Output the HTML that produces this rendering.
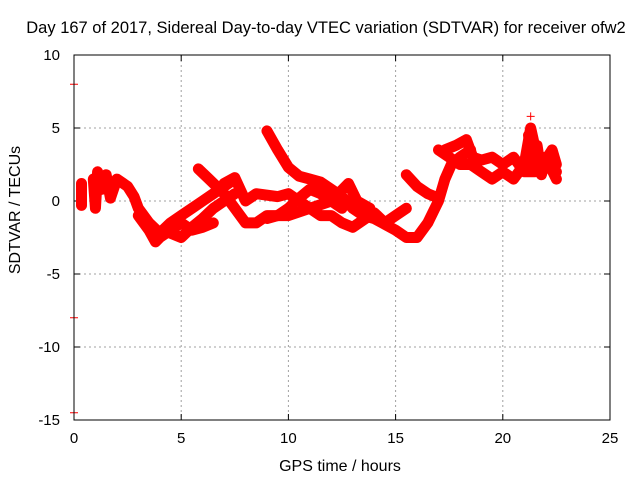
<!DOCTYPE html>
<html><head><meta charset="utf-8"><style>
body{margin:0;background:#fff}
svg{display:block;font-family:"Liberation Sans",sans-serif}
</style></head><body>
<svg id="chart" width="640" height="480" viewBox="0 0 640 480">
<text x="326" y="33" font-size="16.5" text-anchor="middle">Day 167 of 2017, Sidereal Day-to-day VTEC variation (SDTVAR) for receiver ofw2</text>
<text transform="translate(20,210) rotate(-90)" font-size="16" text-anchor="middle">SDTVAR / TECUs</text>
<text x="340" y="471" font-size="16" text-anchor="middle">GPS time / hours</text>
<g id="grid"></g><g id="ticks"></g><g id="marks"></g>
<rect x="74" y="55" width="536" height="365" fill="none" stroke="#000" stroke-width="1"/>
</svg>
<script>
const xTicks=[0,5,10,15,20,25];
const yTicks=[10,5,0,-5,-10,-15];
const track1=[[0.9,1.5],[1.0,-0.5],[1.1,2.0],[1.3,0.8],[1.5,1.8],[1.7,0.2],[2,1.5],[2.3,1.2],[2.5,1.0],[2.8,0.3],[3,-0.5],[3.5,-1.5],[4,-2.2],[4.5,-1.5],[5,-1.0],[5.5,-0.5],[6,0],[6.5,0.5],[7,1.0],[7.5,1.5]];
const track2=[[3,-1],[3.5,-2],[3.8,-2.8],[4,-2.5],[4.5,-2],[5,-1.5],[5.5,-2],[6,-1.8],[6.5,-1.5]];
const track3=[[5.8,2.2],[6.3,1.5],[7,0.5],[7.5,-0.5],[8,-1.5],[8.5,-1.5],[9,-1],[10,-1],[11,-0.5],[12,0],[12.5,-0.5]];
const track4=[[9,4.8],[9.5,3.5],[10,2.3],[10.5,1.7],[11,1.5],[11.5,1.3],[12,0.8],[12.5,0.3],[13,-0.5],[13.5,-1],[14,-1.2],[15,-2],[15.5,-2.5],[16,-2.5],[16.5,-1.5],[17,0],[17.3,1.5],[17.6,2.5],[18,3],[18.5,3.5]];
const track5=[[7,1.2],[7.5,1.6],[8,0],[8.5,0.5],[9.5,0.3],[10,0.5],[10.5,0],[11,-0.5],[11.5,-1],[12,-1],[12.5,-1.5],[13,-1.8],[13.5,-1.3],[14,-0.8],[14.5,-1.5],[15,-1],[15.5,-0.5]];
const track6=[[9,-1.2],[9.5,-1],[10,-0.5],[10.5,0.2],[11,0.8],[11.5,0.5],[12,0],[12.8,1.2],[13.2,0],[13.8,-0.5]];
const track7=[[15.5,1.8],[16,1],[16.5,0.5],[17,0.2]];
const track8=[[17,3.5],[17.5,3],[18,2.5],[18.5,2.5],[19,2],[19.5,1.5],[20,2],[20.5,1.5],[21,2.5],[21.3,5],[21.6,3],[22,2.5],[22.5,2]];
const track9=[[17.3,3.5],[17.8,3.8],[18.3,4.2],[18.6,3],[19,2.8],[19.5,3],[20,2.5],[20.5,3],[21,2],[21.5,2],[22,3],[22.5,1.5]];
const track10=[[0.35,1.2],[0.35,0.4],[0.35,-0.3]];
const track11=[[4.5,-2.2],[5,-2.5],[5.5,-1.8],[6,-1.2],[6.5,-0.5],[7,0],[7.5,0.5]];
const track12=[[21.2,4.5],[21.4,2.5],[21.6,3.8],[21.8,1.8],[22,2.8],[22.3,3.5],[22.5,2.5]];
const strays=[[0,8],[0,-8],[0,-14.5],[21.3,5.8]];
const tracks=[track1,track2,track3,track4,track5,track6,track7,track8,track9,track10,track11,track12];
const X=t=>74+t*536/25, Y=v=>201-v*14.6;
const NS="http://www.w3.org/2000/svg";
const grid=document.getElementById('grid'),ticks=document.getElementById('ticks'),marks=document.getElementById('marks');
function mk(tag,attrs,parent){const e=document.createElementNS(NS,tag);for(const k in attrs)e.setAttribute(k,attrs[k]);parent.appendChild(e);return e;}
xTicks.forEach(t=>{
 if(t>0&&t<25){const g=mk('line',{x1:X(t),x2:X(t),y1:55,y2:420,stroke:'#a0a0a0','stroke-dasharray':'2,3'},grid);
 
 }
 mk('line',{x1:X(t),x2:X(t),y1:420,y2:414,stroke:'#000'},ticks);
 mk('line',{x1:X(t),x2:X(t),y1:55,y2:61,stroke:'#000'},ticks);
 const l=mk('text',{x:X(t),y:443,'font-size':15,'text-anchor':'middle'},ticks);l.textContent=t;
 
 
});
yTicks.forEach(v=>{
 if(v<10&&v>-15){const g=mk('line',{x1:74,x2:610,y1:Y(v),y2:Y(v),stroke:'#a0a0a0','stroke-dasharray':'2,3'},grid);
 
 }
 mk('line',{x1:74,x2:80,y1:Y(v),y2:Y(v),stroke:'#000'},ticks);
 mk('line',{x1:610,x2:604,y1:Y(v),y2:Y(v),stroke:'#000'},ticks);
 const l=mk('text',{x:60,y:Y(v)+5,'font-size':15,'text-anchor':'end'},ticks);l.textContent=v;
 
 
});
tracks.forEach(tr=>{
 const p=mk('polyline',{points:tr.map(d=>X(d[0])+','+Y(d[1])).join(' '),fill:'none',stroke:'#f00','stroke-width':11,'stroke-linejoin':'round','stroke-linecap':'round'},marks);
 
 
 tr.forEach(d=>{const m=mk('path',{d:`M${X(d[0])-5},${Y(d[1])}h10M${X(d[0])},${Y(d[1])-5}v10`,stroke:'#f00','stroke-width':1.5},marks);
 
 });
});
strays.forEach(d=>{const m=mk('path',{d:`M${X(d[0])-4},${Y(d[1])}h8M${X(d[0])},${Y(d[1])-4}v8`,stroke:'#f00','stroke-width':1},marks);
 
 });
</script>
</body></html>
